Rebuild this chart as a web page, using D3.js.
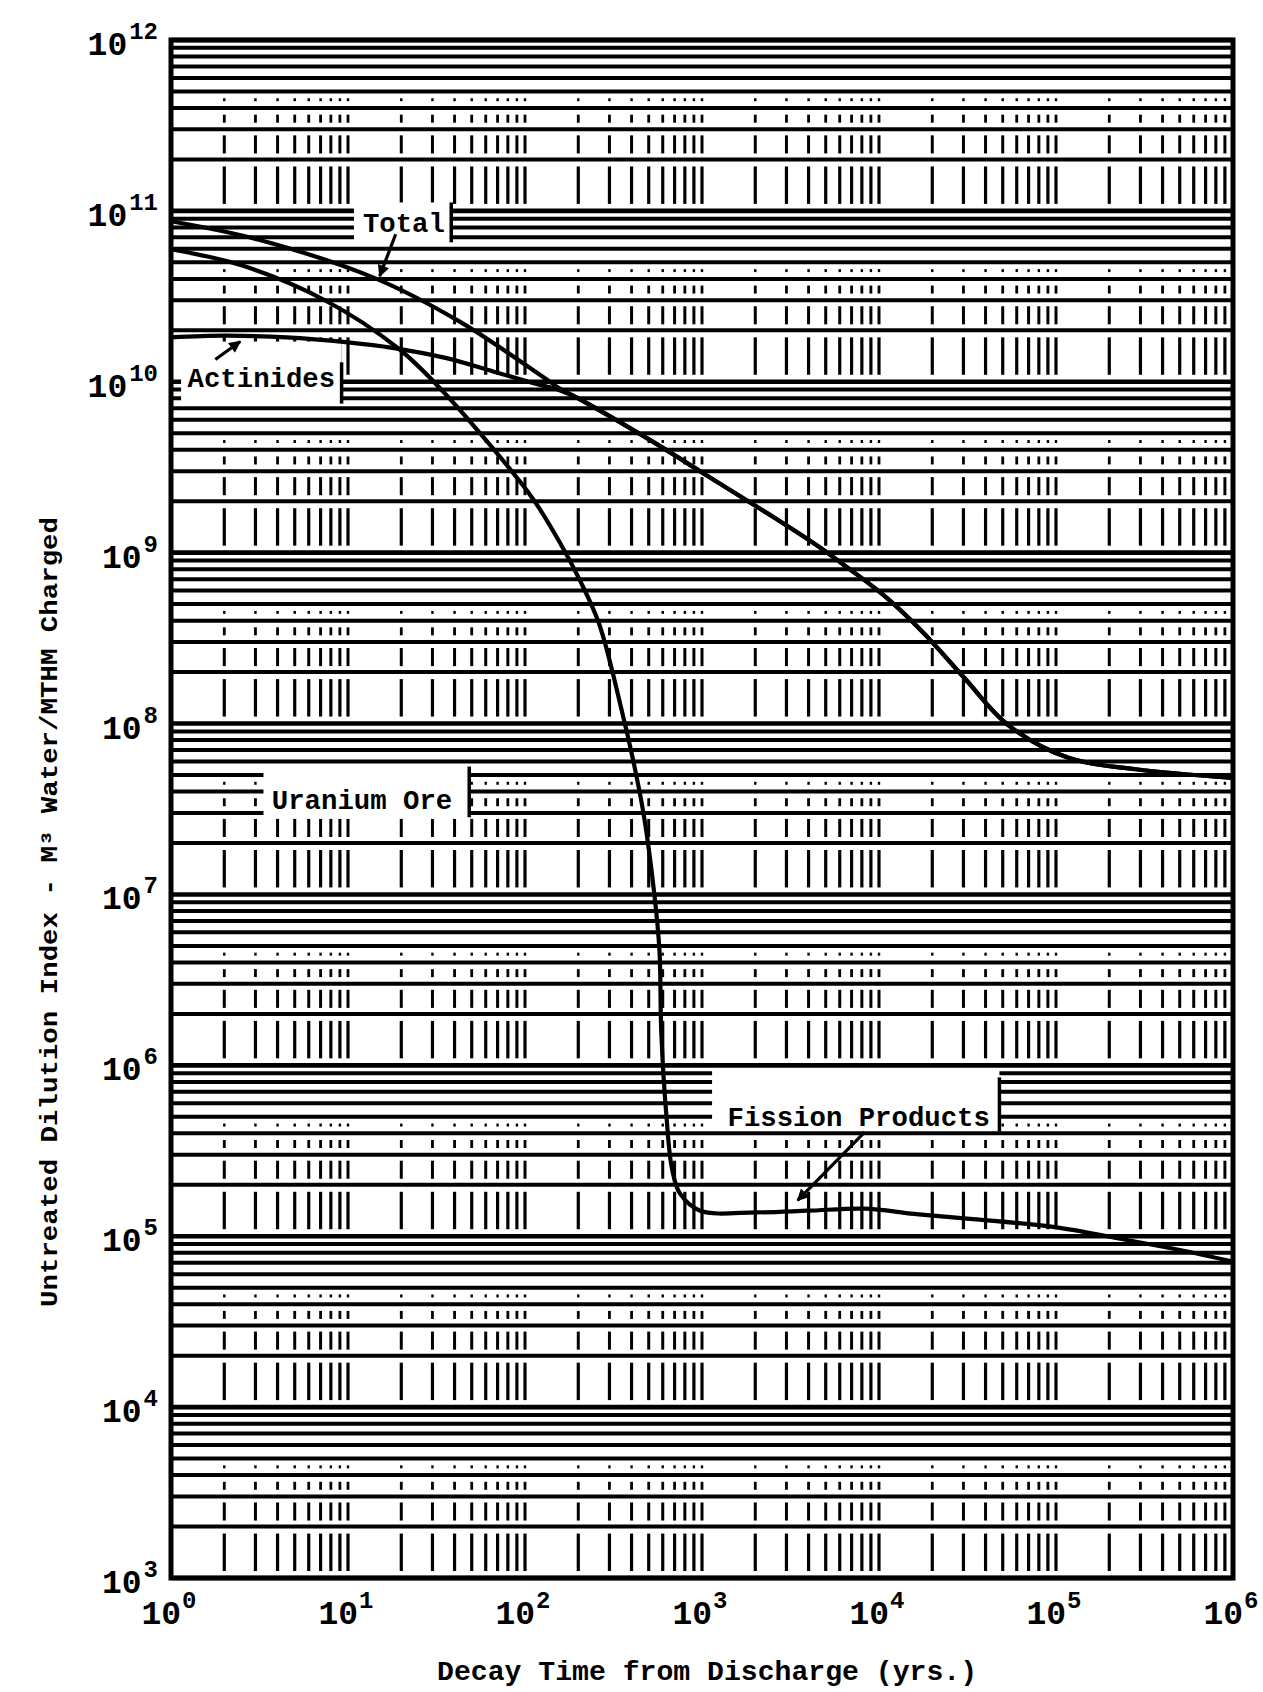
<!DOCTYPE html>
<html><head><meta charset="utf-8">
<script src="https://cdn.jsdelivr.net/npm/d3@7"></script>
<style>html,body{margin:0;padding:0;background:#fff}</style>
</head><body>
<svg id="c" width="1263" height="1692"></svg>
<script>
// ---------- data ----------
const xTickValues = [1, 10, 100, 1000, 10000, 100000, 1000000];
const xTickExponents = ["0", "1", "2", "3", "4", "5", "6"];
const yTickValues = [1e3, 1e4, 1e5, 1e6, 1e7, 1e8, 1e9, 1e10, 1e11, 1e12];
const yTickExponents = ["3", "4", "5", "6", "7", "8", "9", "10", "11", "12"];

// Total (upper curve until it joins the actinides, then common curve)
const totalTime  = [1, 3.1, 14.5, 43, 126, 158, 195, 507, 1070, 2340, 4470, 6300, 10700, 17800, 30200, 53700, 117500, 282000, 1000000];
const totalValue = [8.7e10, 6.8e10, 4.0e10, 2.24e10, 1.07e10, 9.1e9, 8.1e9, 4.57e9, 2.82e9, 1.70e9, 1.10e9, 8.5e8, 5.6e8, 3.4e8, 1.86e8, 9.8e7, 6.3e7, 5.4e7, 4.8e7];

// Actinides (until it merges with the total curve)
const actinideTime  = [1, 2.0, 4.5, 10, 17.8, 35.5, 66, 112, 158, 195];
const actinideValue = [1.82e10, 1.86e10, 1.82e10, 1.7e10, 1.58e10, 1.38e10, 1.15e10, 9.8e9, 8.9e9, 8.1e9];

// Fission products
const fissionTime  = [1, 2.5, 7.4, 19.5, 34, 60, 110, 157, 204, 263, 355, 407, 468, 537, 575, 589, 631, 676, 750, 977, 2040, 3980, 8300, 15800, 33900, 105000, 251000, 501000, 1000000];
const fissionValue = [5.96e10, 4.8e10, 3.0e10, 1.55e10, 8.9e9, 4.57e9, 2.09e9, 1.15e9, 6.9e8, 3.8e8, 1.15e8, 6.2e7, 2.95e7, 1.02e7, 4.7e6, 1.55e6, 4.9e5, 2.5e5, 1.78e5, 1.41e5, 1.38e5, 1.41e5, 1.45e5, 1.35e5, 1.26e5, 1.12e5, 9.5e4, 8.3e4, 7.1e4];

const labelTexts = ["Total", "Actinides", "Uranium Ore", "Fission Products"];
const xTitle = "Decay Time from Discharge (yrs.)";
const yTitle = "Untreated Dilution Index - M\u00B3 Water/MTHM Charged";

// ---------- layout ----------
const svg = d3.select("#c");
const font = '"Liberation Mono","DejaVu Sans Mono",monospace';
const x = d3.scaleLog().domain([1, 1e6]).range([171, 1233]);
const y = d3.scaleLog().domain([1e3, 1e12]).range([1578, 40]);
const [xl, xr] = x.range();
const [yb, yt] = y.range();

svg.append("rect").attr("width", 1263).attr("height", 1692).attr("fill", "#fff");

const grid = svg.append("g");

// horizontal lines: every log subdivision
const hTicks = y.ticks();
grid.selectAll("line.h").data(hTicks).join("line")
  .attr("x1", xl).attr("x2", xr)
  .attr("y1", d => y(d)).attr("y2", d => y(d))
  .attr("stroke", "#000")
  .attr("stroke-width", d => Math.abs(Math.log10(d) % 1) < 1e-9 ? 4.6 : 4);

// vertical lines: only visible in the open gaps of each decade
const vTicks = x.ticks().filter(d => d > 1 && d < 1e6);
const decades = yTickValues.slice(0, -1);
const segs = [];
decades.forEach(d => {
  vTicks.forEach(v => {
    segs.push({v, y1: y(2 * d) + 7, y2: y(d) - 7, w: 3.2});
    segs.push({v, y1: y(3 * d) + 6, y2: y(2 * d) - 6, w: 3});
    const c34 = (y(3 * d) + y(4 * d)) / 2;
    segs.push({v, y1: c34 - 4, y2: c34 + 4, w: 2.8});
    const c45 = (y(4 * d) + y(5 * d)) / 2;
    segs.push({v, y1: c45 - 1.5, y2: c45 + 1.5, w: 2.4});
  });
});
grid.selectAll("line.v").data(segs).join("line")
  .attr("x1", d => x(d.v)).attr("x2", d => x(d.v))
  .attr("y1", d => d.y1).attr("y2", d => d.y2)
  .attr("stroke", "#000").attr("stroke-width", d => d.w);

// label boxes (typed labels pasted on the graph paper)
const boxes = [
  {t: labelTexts[0], x0: 10.8, x1: 38.3, y0: 6.55e10, y1: 1.12e11, tx: 20.7, ty: 8.6e10, e0: 6.55e10, e1: 1.12e11},
  {t: labelTexts[1], x0: 1.14, x1: 9.2, y0: 7.45e9, y1: 1.72e10, tx: 3.24, ty: 1.06e10, e0: 7.45e9, e1: 1.3e10},
  {t: labelTexts[2], x0: 3.33, x1: 48.4, y0: 2.83e7, y1: 5.48e7, tx: 12.0, ty: 3.6e7, e0: 2.83e7, e1: 5.6e7},
  {t: labelTexts[3], x0: 1140, x1: 47900, y0: 4.25e5, y1: 9.4e5, tx: 7680, ty: 5.0e5, e0: 4.1e5, e1: 8.5e5}
];
svg.append("g").selectAll("rect").data(boxes).join("rect")
  .attr("x", d => x(d.x0)).attr("width", d => x(d.x1) - x(d.x0))
  .attr("y", d => y(d.y1)).attr("height", d => y(d.y0) - y(d.y1))
  .attr("fill", "#fff");
svg.append("g").selectAll("line").data(boxes).join("line")
  .attr("x1", d => x(d.x1)).attr("x2", d => x(d.x1))
  .attr("y1", d => y(d.e1)).attr("y2", d => y(d.e0))
  .attr("stroke", "#000").attr("stroke-width", 3.5);

// frame
svg.append("rect").attr("x", xl).attr("y", yt).attr("width", xr - xl).attr("height", yb - yt)
  .attr("fill", "none").attr("stroke", "#000").attr("stroke-width", 5);

// curves
const line = d3.line().x(d => x(d[0])).y(d => y(d[1])).curve(d3.curveCatmullRom.alpha(0.5));
const totalPts = d3.zip(totalTime, totalValue);
const mergeIdx = totalTime.indexOf(actinideTime[actinideTime.length - 1]);
const actPts = d3.zip(actinideTime, actinideValue).concat(totalPts.slice(mergeIdx + 1));
const fisPts = d3.zip(fissionTime, fissionValue);
const curves = svg.append("g").attr("fill", "none").attr("stroke", "#000").attr("stroke-linejoin", "round").attr("stroke-linecap", "round");
[totalPts, actPts, fisPts].forEach(p => curves.append("path").attr("d", line(p)).attr("stroke-width", 4.2));

// label texts
svg.append("g").selectAll("text").data(boxes).join("text")
  .attr("x", d => x(d.tx)).attr("y", d => y(d.ty))
  .attr("dy", "0.35em")
  .attr("text-anchor", "middle")
  .attr("font-family", font).attr("font-weight", "bold").attr("font-size", 27)
  .attr("textLength", d => d.t.length * 16.4).attr("lengthAdjust", "spacingAndGlyphs")
  .text(d => d.t);

// arrows
const defs = svg.append("defs");
defs.append("marker").attr("id", "ah").attr("viewBox", "0 0 10 10").attr("refX", 9).attr("refY", 5)
  .attr("markerWidth", 14).attr("markerHeight", 12).attr("markerUnits", "userSpaceOnUse").attr("orient", "auto")
  .append("path").attr("d", "M0,0 L10,5 L0,10 z").attr("fill", "#000");
const arrows = [
  {a: [18.6, 7.3e10], b: [15.1, 4.15e10]},
  {a: [1.78, 1.35e10], b: [2.46, 1.72e10]},
  {a: [8300, 4.07e5], b: [3470, 1.62e5]}
];
svg.append("g").selectAll("line").data(arrows).join("line")
  .attr("x1", d => x(d.a[0])).attr("y1", d => y(d.a[1]))
  .attr("x2", d => x(d.b[0])).attr("y2", d => y(d.b[1]))
  .attr("stroke", "#000").attr("stroke-width", 3.2).attr("marker-end", "url(#ah)");

// y tick labels
const yl = svg.append("g").attr("font-family", font).attr("font-weight", "bold");
yTickValues.forEach((v, i) => {
  const t = yl.append("text").attr("x", 158).attr("y", y(v) + 15).attr("text-anchor", "end");
  t.append("tspan").attr("font-size", 33).text("10");
  t.append("tspan").attr("font-size", 24).attr("dy", -16).attr("dx", 2).text(yTickExponents[i]);
});
// x tick labels
const xlab = svg.append("g").attr("font-family", font).attr("font-weight", "bold");
xTickValues.forEach((v, i) => {
  const t = xlab.append("text").attr("x", x(v) - 2).attr("y", 1624).attr("text-anchor", "middle");
  t.append("tspan").attr("font-size", 33).text("10");
  t.append("tspan").attr("font-size", 24).attr("dy", -16).attr("dx", 1).text(xTickExponents[i]);
});

// axis titles
svg.append("text").attr("x", 707).attr("y", 1680).attr("text-anchor", "middle")
  .attr("font-family", font).attr("font-weight", "bold").attr("font-size", 28)
  .attr("textLength", 540).attr("lengthAdjust", "spacingAndGlyphs").text(xTitle);
svg.append("text").attr("transform", "translate(57,912) rotate(-90)").attr("text-anchor", "middle")
  .attr("font-family", font).attr("font-weight", "bold").attr("font-size", 23)
  .attr("textLength", 790).attr("lengthAdjust", "spacingAndGlyphs").text(yTitle);
</script>
</body></html>
